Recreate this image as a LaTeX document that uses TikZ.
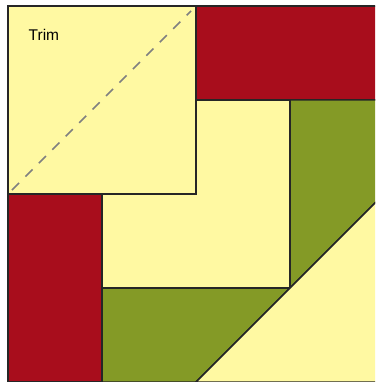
\documentclass[tikz,border=0pt]{standalone}
\usepackage{fontspec}
\setmainfont{Liberation Sans}
\definecolor{quiltred}{HTML}{A80D1C}
\definecolor{quiltgreen}{HTML}{849A26}
\definecolor{quiltyellow}{HTML}{FFF9A2}
\definecolor{trimgray}{HTML}{808080}
\tikzset{
  piece/.style={draw=black!85, line width=1.5pt, line join=miter},
  redpiece/.style={piece, fill=quiltred},
  greenpiece/.style={piece, fill=quiltgreen},
  yellowpiece/.style={piece, fill=quiltyellow},
  trimline/.style={draw=trimgray, line width=1.6pt, dash pattern=on 10pt off 9pt},
}
\begin{document}
\begin{tikzpicture}[x=1pt,y=-1pt]
\useasboundingbox (0,0) rectangle (375,382);
\fill[white] (0,0) rectangle (375,382);
\clip (0,0) rectangle (375,382);
% top red strip
\draw[redpiece] (196,6) rectangle (384,100);
% centre yellow square
\draw[yellowpiece] (102,100) rectangle (290,288);
% right green trapezoid
\draw[greenpiece] (290,100) -- (384,100) -- (384,194) -- (290,288) -- cycle;
% bottom green trapezoid
\draw[greenpiece] (102,288) -- (290,288) -- (196,382) -- (102,382) -- cycle;
% big yellow triangle
\draw[yellowpiece] (196,382) -- (384,194) -- (384,382) -- cycle;
% left red strip
\draw[redpiece] (8,194) rectangle (102,382);
% trim square
\draw[yellowpiece] (8,6) rectangle (196,194);
\coordinate (tA) at (12,190);
\coordinate (tB) at (191,11);
\draw[trimline] (tA) -- (tB);
\node[anchor=base west, inner sep=0pt, font=\fontsize{15.5}{17}\selectfont] (trim) at (28.5,41) {Trim};
\end{tikzpicture}
\end{document}
